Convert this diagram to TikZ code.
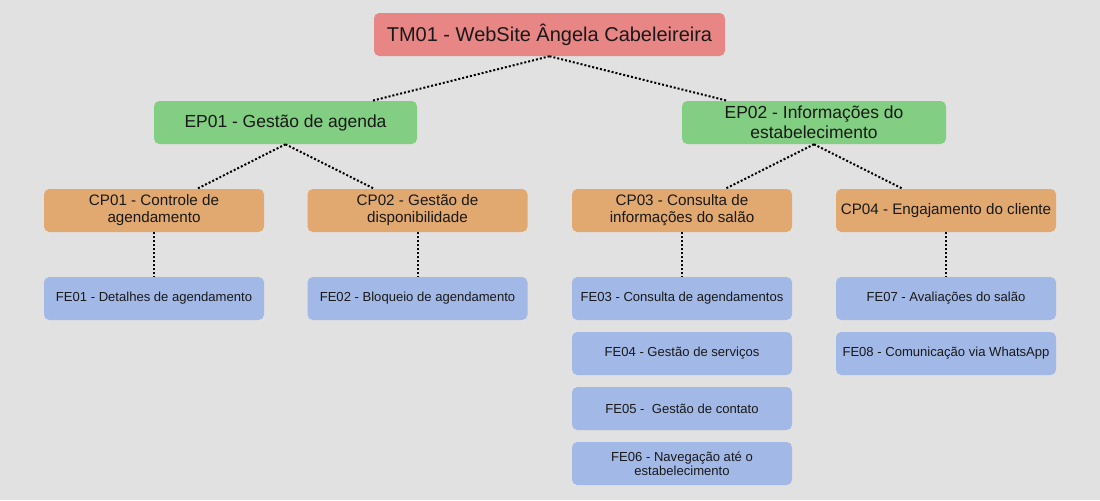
\documentclass[tikz,border=0pt]{standalone}
\usepackage{fontspec}
\setmainfont{Liberation Sans}
\definecolor{bgcol}{HTML}{E1E1E1}
\definecolor{tmcol}{HTML}{E88585}
\definecolor{epcol}{HTML}{82CE82}
\definecolor{cpcol}{HTML}{E1A96F}
\definecolor{fecol}{HTML}{A2B8E6}
\begin{document}
\begin{tikzpicture}[x=0.75pt,y=-0.75pt,
  box/.style={rounded corners=4pt,inner sep=0pt,minimum height=32.25pt,align=center,text=black!90},
  tmbox/.style={box,fill=tmcol,minimum width=263.25pt,font=\fontsize{15}{18}\selectfont},
  epbox/.style={box,fill=epcol,minimum width=197.25pt,font=\fontsize{13.1}{15}\selectfont},
  cpbox/.style={box,fill=cpcol,minimum width=165pt,font=\fontsize{11.4}{12.75}\selectfont},
  febox/.style={box,fill=fecol,minimum width=165pt,font=\fontsize{9.8}{10.8}\selectfont},
  link/.style={line width=1.5pt,dash pattern=on 1.5pt off 1.5pt}]
\fill [bgcol] (0,0) rectangle (1100,500);
\useasboundingbox (0,0) rectangle (1100,500);
\node [tmbox] (tm) at (549.5,34.5) {TM01 - WebSite Ângela Cabeleireira};
\node [epbox] (ep01) at (285.5,122.5) {EP01 - Gestão de agenda};
\node [epbox,minimum width=198pt] (ep02) at (814,122.5) {EP02 - Informações do\\estabelecimento};
\node [cpbox] (cp01) at (154,210.5) {CP01 - Controle de\\agendamento};
\node [cpbox] (cp02) at (417.5,210.5) {CP02 - Gestão de\\disponibilidade};
\node [cpbox] (cp03) at (682,210.5) {CP03 - Consulta de\\informações do salão};
\node [cpbox] (cp04) at (946,210.5) {CP04 - Engajamento do cliente};
\node [febox] (fe01) at (154,298.5) {FE01 - Detalhes de agendamento};
\node [febox] (fe02) at (417.5,298.5) {FE02 - Bloqueio de agendamento};
\node [febox] (fe03) at (682,298.5) {FE03 - Consulta de agendamentos};
\node [febox] (fe04) at (682,353.5) {FE04 - Gestão de serviços};
\node [febox] (fe05) at (682,408.5) {FE05 -\ \ Gestão de contato};
\node [febox] (fe06) at (682,463.5) {FE06 - Navegação até o\\estabelecimento};
\node [febox] (fe07) at (946,298.5) {FE07 - Avaliações do salão};
\node [febox] (fe08) at (946,353.5) {FE08 - Comunicação via WhatsApp};
\draw [link] (tm.south) -- (ep01);
\draw [link] (tm.south) -- (ep02);
\draw [link] (ep01.south) -- (cp01);
\draw [link] (ep01.south) -- (cp02);
\draw [link] (ep02.south) -- (cp03);
\draw [link] (ep02.south) -- (cp04);
\draw [link] (cp01) -- (fe01);
\draw [link] (cp02) -- (fe02);
\draw [link] (cp03) -- (fe03);
\draw [link] (cp04) -- (fe07);
\end{tikzpicture}
\end{document}
